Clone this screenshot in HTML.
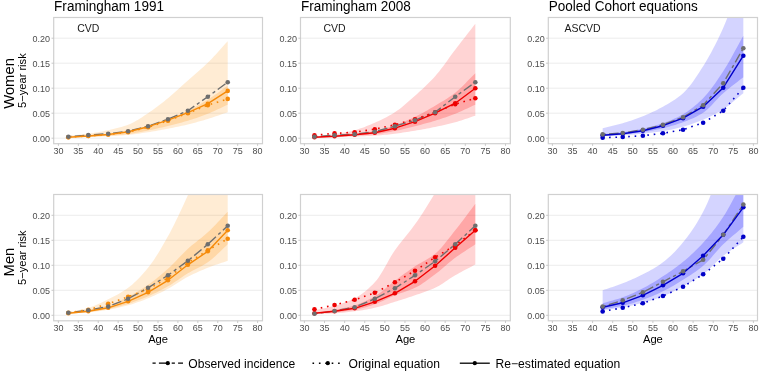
<!DOCTYPE html><html><head><meta charset="utf-8"><style>html,body{margin:0;padding:0;background:#fff;width:759px;height:371px;overflow:hidden}svg{display:block;filter:blur(0.35px)}text{font-family:"Liberation Sans", sans-serif}</style></head><body>
<svg width="759" height="371" viewBox="0 0 759 371">
<rect width="759" height="371" fill="#fff"/>
<defs><clipPath id="c00"><rect x="53.7" y="17.5" width="208.8" height="126.2"/></clipPath><clipPath id="c01"><rect x="300.5" y="17.5" width="209.8" height="126.2"/></clipPath><clipPath id="c02"><rect x="548.3" y="17.5" width="209.2" height="126.2"/></clipPath><clipPath id="c10"><rect x="53.7" y="194.5" width="208.8" height="126.3"/></clipPath><clipPath id="c11"><rect x="300.5" y="194.5" width="209.8" height="126.3"/></clipPath><clipPath id="c12"><rect x="548.3" y="194.5" width="209.2" height="126.3"/></clipPath></defs>
<line x1="53.7" x2="262.5" y1="138.2" y2="138.2" stroke="#EBEBEB" stroke-width="0.9"/>
<line x1="53.7" x2="262.5" y1="113.2" y2="113.2" stroke="#EBEBEB" stroke-width="0.9"/>
<line x1="53.7" x2="262.5" y1="88.2" y2="88.2" stroke="#EBEBEB" stroke-width="0.9"/>
<line x1="53.7" x2="262.5" y1="63.2" y2="63.2" stroke="#EBEBEB" stroke-width="0.9"/>
<line x1="53.7" x2="262.5" y1="38.2" y2="38.2" stroke="#EBEBEB" stroke-width="0.9"/>
<g clip-path="url(#c00)">
<polygon points="68.36,135.7 70.35,135.5 72.34,135.32 74.34,135.13 76.33,134.95 78.32,134.77 80.31,134.58 82.3,134.38 84.3,134.17 86.29,133.94 88.28,133.7 90.27,133.43 92.26,133.15 94.26,132.84 96.25,132.51 98.24,132.17 100.23,131.8 102.22,131.42 104.22,131.03 106.21,130.62 108.2,130.2 110.19,129.77 112.18,129.32 114.18,128.85 116.17,128.36 118.16,127.85 120.15,127.3 122.14,126.71 124.14,126.09 126.13,125.42 128.12,124.7 130.11,123.89 132.1,122.97 134.1,121.94 136.09,120.83 138.08,119.65 140.07,118.41 142.06,117.13 144.06,115.82 146.05,114.51 148.04,113.2 150.03,111.87 152.02,110.49 154.02,109.07 156.01,107.61 158,106.11 159.99,104.57 161.98,103.01 163.98,101.43 165.97,99.82 167.96,98.2 169.95,96.54 171.94,94.83 173.94,93.08 175.93,91.29 177.92,89.48 179.91,87.66 181.9,85.83 183.9,84 185.89,82.19 187.88,80.4 189.87,78.64 191.86,76.91 193.86,75.19 195.85,73.48 197.84,71.76 199.83,70.02 201.82,68.26 203.82,66.46 205.81,64.61 207.8,62.7 209.79,60.72 211.78,58.67 213.78,56.56 215.77,54.4 217.76,52.21 219.75,50 221.74,47.78 223.74,45.57 225.73,43.37 227.72,41.2 227.72,112.2 225.73,112.88 223.74,113.57 221.74,114.27 219.75,114.97 217.76,115.66 215.77,116.35 213.78,117.03 211.78,117.69 209.79,118.33 207.8,118.95 205.81,119.55 203.82,120.14 201.82,120.73 199.83,121.3 197.84,121.86 195.85,122.41 193.86,122.94 191.86,123.46 189.87,123.96 187.88,124.45 185.89,124.92 183.9,125.38 181.9,125.83 179.91,126.27 177.92,126.69 175.93,127.11 173.94,127.52 171.94,127.92 169.95,128.31 167.96,128.7 165.97,129.08 163.98,129.46 161.98,129.83 159.99,130.19 158,130.55 156.01,130.9 154.02,131.24 152.02,131.57 150.03,131.89 148.04,132.2 146.05,132.51 144.06,132.81 142.06,133.12 140.07,133.42 138.08,133.71 136.09,133.98 134.1,134.24 132.1,134.49 130.11,134.71 128.12,134.9 126.13,135.07 124.14,135.24 122.14,135.39 120.15,135.53 118.16,135.67 116.17,135.8 114.18,135.92 112.18,136.03 110.19,136.14 108.2,136.25 106.21,136.35 104.22,136.45 102.22,136.54 100.23,136.64 98.24,136.72 96.25,136.8 94.26,136.88 92.26,136.96 90.27,137.03 88.28,137.1 86.29,137.16 84.3,137.23 82.3,137.28 80.31,137.34 78.32,137.39 76.33,137.44 74.34,137.49 72.34,137.54 70.35,137.6 68.36,137.65" fill="#FF8C00" fill-opacity="0.17"/>
<polygon points="68.36,137.1 70.35,136.99 72.34,136.89 74.34,136.78 76.33,136.68 78.32,136.58 80.31,136.47 82.3,136.36 84.3,136.25 86.29,136.13 88.28,136 90.27,135.87 92.26,135.73 94.26,135.58 96.25,135.43 98.24,135.27 100.23,135.1 102.22,134.93 104.22,134.74 106.21,134.55 108.2,134.35 110.19,134.14 112.18,133.92 114.18,133.68 116.17,133.44 118.16,133.18 120.15,132.9 122.14,132.6 124.14,132.29 126.13,131.96 128.12,131.6 130.11,131.2 132.1,130.76 134.1,130.26 136.09,129.73 138.08,129.17 140.07,128.58 142.06,127.97 144.06,127.35 146.05,126.72 148.04,126.1 150.03,125.47 152.02,124.81 154.02,124.12 156.01,123.42 158,122.71 159.99,121.97 161.98,121.23 163.98,120.48 165.97,119.71 167.96,118.95 169.95,118.18 171.94,117.41 173.94,116.64 175.93,115.85 177.92,115.05 179.91,114.23 181.9,113.39 183.9,112.52 185.89,111.63 187.88,110.7 189.87,109.74 191.86,108.74 193.86,107.71 195.85,106.65 197.84,105.56 199.83,104.44 201.82,103.29 203.82,102.12 205.81,100.92 207.8,99.7 209.79,98.44 211.78,97.12 213.78,95.75 215.77,94.34 217.76,92.91 219.75,91.46 221.74,90.01 223.74,88.55 225.73,87.12 227.72,85.7 227.72,104.7 225.73,105.61 223.74,106.54 221.74,107.47 219.75,108.41 217.76,109.34 215.77,110.26 213.78,111.17 211.78,112.04 209.79,112.89 207.8,113.7 205.81,114.48 203.82,115.24 201.82,115.99 199.83,116.72 197.84,117.43 195.85,118.13 193.86,118.8 191.86,119.46 189.87,120.09 187.88,120.7 185.89,121.29 183.9,121.86 181.9,122.41 179.91,122.94 177.92,123.47 175.93,123.98 173.94,124.48 171.94,124.97 169.95,125.46 167.96,125.95 165.97,126.44 163.98,126.92 161.98,127.4 159.99,127.87 158,128.34 156.01,128.8 154.02,129.24 152.02,129.68 150.03,130.1 148.04,130.5 146.05,130.9 144.06,131.3 142.06,131.69 140.07,132.08 138.08,132.45 136.09,132.81 134.1,133.15 132.1,133.46 130.11,133.75 128.12,134 126.13,134.23 124.14,134.44 122.14,134.64 120.15,134.83 118.16,135 116.17,135.17 114.18,135.33 112.18,135.47 110.19,135.62 108.2,135.75 106.21,135.88 104.22,136 102.22,136.12 100.23,136.23 98.24,136.33 96.25,136.44 94.26,136.53 92.26,136.63 90.27,136.71 88.28,136.8 86.29,136.88 84.3,136.96 82.3,137.03 80.31,137.1 78.32,137.17 76.33,137.23 74.34,137.3 72.34,137.36 70.35,137.43 68.36,137.5" fill="#FF8C00" fill-opacity="0.21"/>
<polyline points="68.36,136.7 88.28,135 108.2,133.7 128.12,131.2 148.04,126.2 167.96,119.2 187.88,110.7 207.8,96.7 227.72,82.2" fill="none" stroke="#6E6E6E" stroke-width="1.4" stroke-dasharray="3.2 3.2 9.6 3.2" stroke-linejoin="round"/>
<polyline points="68.36,137.2 88.28,135.95 108.2,134.45 128.12,132.2 148.04,127.2 167.96,120.7 187.88,113.2 207.8,105.2 227.72,98.9" fill="none" stroke="#F58A0A" stroke-width="1.6" stroke-dasharray="1.6 4.8" stroke-linejoin="round"/>
<polyline points="68.36,137.2 88.28,135.95 108.2,134.45 128.12,131.7 148.04,126.7 167.96,120.2 187.88,112.7 207.8,103.7 227.72,90.9" fill="none" stroke="#F58A0A" stroke-width="1.4" stroke-linejoin="round"/>
<circle cx="68.36" cy="137.2" r="2.3" fill="#F58A0A"/>
<circle cx="88.28" cy="135.95" r="2.3" fill="#F58A0A"/>
<circle cx="108.2" cy="134.45" r="2.3" fill="#F58A0A"/>
<circle cx="128.12" cy="132.2" r="2.3" fill="#F58A0A"/>
<circle cx="148.04" cy="127.2" r="2.3" fill="#F58A0A"/>
<circle cx="167.96" cy="120.7" r="2.3" fill="#F58A0A"/>
<circle cx="187.88" cy="113.2" r="2.3" fill="#F58A0A"/>
<circle cx="207.8" cy="105.2" r="2.3" fill="#F58A0A"/>
<circle cx="227.72" cy="98.9" r="2.3" fill="#F58A0A"/>
<circle cx="68.36" cy="137.2" r="2.3" fill="#F58A0A"/>
<circle cx="88.28" cy="135.95" r="2.3" fill="#F58A0A"/>
<circle cx="108.2" cy="134.45" r="2.3" fill="#F58A0A"/>
<circle cx="128.12" cy="131.7" r="2.3" fill="#F58A0A"/>
<circle cx="148.04" cy="126.7" r="2.3" fill="#F58A0A"/>
<circle cx="167.96" cy="120.2" r="2.3" fill="#F58A0A"/>
<circle cx="187.88" cy="112.7" r="2.3" fill="#F58A0A"/>
<circle cx="207.8" cy="103.7" r="2.3" fill="#F58A0A"/>
<circle cx="227.72" cy="90.9" r="2.3" fill="#F58A0A"/>
<circle cx="68.36" cy="136.7" r="2.3" fill="#6E6E6E"/>
<circle cx="88.28" cy="135" r="2.3" fill="#6E6E6E"/>
<circle cx="108.2" cy="133.7" r="2.3" fill="#6E6E6E"/>
<circle cx="128.12" cy="131.2" r="2.3" fill="#6E6E6E"/>
<circle cx="148.04" cy="126.2" r="2.3" fill="#6E6E6E"/>
<circle cx="167.96" cy="119.2" r="2.3" fill="#6E6E6E"/>
<circle cx="187.88" cy="110.7" r="2.3" fill="#6E6E6E"/>
<circle cx="207.8" cy="96.7" r="2.3" fill="#6E6E6E"/>
<circle cx="227.72" cy="82.2" r="2.3" fill="#6E6E6E"/>
</g>
<rect x="53.7" y="17.5" width="208.8" height="126.2" fill="none" stroke="#D0D0D0" stroke-width="1.2"/>
<line x1="51.5" x2="53.7" y1="138.2" y2="138.2" stroke="#C4C4C4" stroke-width="0.9"/>
<text transform="translate(50.1,141.5) scale(1,1.1)" font-size="9" fill="#4D4D4D" text-anchor="end">0.00</text>
<line x1="51.5" x2="53.7" y1="113.2" y2="113.2" stroke="#C4C4C4" stroke-width="0.9"/>
<text transform="translate(50.1,116.5) scale(1,1.1)" font-size="9" fill="#4D4D4D" text-anchor="end">0.05</text>
<line x1="51.5" x2="53.7" y1="88.2" y2="88.2" stroke="#C4C4C4" stroke-width="0.9"/>
<text transform="translate(50.1,91.5) scale(1,1.1)" font-size="9" fill="#4D4D4D" text-anchor="end">0.10</text>
<line x1="51.5" x2="53.7" y1="63.2" y2="63.2" stroke="#C4C4C4" stroke-width="0.9"/>
<text transform="translate(50.1,66.5) scale(1,1.1)" font-size="9" fill="#4D4D4D" text-anchor="end">0.15</text>
<line x1="51.5" x2="53.7" y1="38.2" y2="38.2" stroke="#C4C4C4" stroke-width="0.9"/>
<text transform="translate(50.1,41.5) scale(1,1.1)" font-size="9" fill="#4D4D4D" text-anchor="end">0.20</text>
<line x1="58.4" x2="58.4" y1="143.7" y2="145.9" stroke="#C4C4C4" stroke-width="0.9"/>
<text transform="translate(58.4,154.1) scale(1,1.1)" font-size="9" fill="#4D4D4D" text-anchor="middle">30</text>
<line x1="78.32" x2="78.32" y1="143.7" y2="145.9" stroke="#C4C4C4" stroke-width="0.9"/>
<text transform="translate(78.32,154.1) scale(1,1.1)" font-size="9" fill="#4D4D4D" text-anchor="middle">35</text>
<line x1="98.24" x2="98.24" y1="143.7" y2="145.9" stroke="#C4C4C4" stroke-width="0.9"/>
<text transform="translate(98.24,154.1) scale(1,1.1)" font-size="9" fill="#4D4D4D" text-anchor="middle">40</text>
<line x1="118.16" x2="118.16" y1="143.7" y2="145.9" stroke="#C4C4C4" stroke-width="0.9"/>
<text transform="translate(118.16,154.1) scale(1,1.1)" font-size="9" fill="#4D4D4D" text-anchor="middle">45</text>
<line x1="138.08" x2="138.08" y1="143.7" y2="145.9" stroke="#C4C4C4" stroke-width="0.9"/>
<text transform="translate(138.08,154.1) scale(1,1.1)" font-size="9" fill="#4D4D4D" text-anchor="middle">50</text>
<line x1="158" x2="158" y1="143.7" y2="145.9" stroke="#C4C4C4" stroke-width="0.9"/>
<text transform="translate(158,154.1) scale(1,1.1)" font-size="9" fill="#4D4D4D" text-anchor="middle">55</text>
<line x1="177.92" x2="177.92" y1="143.7" y2="145.9" stroke="#C4C4C4" stroke-width="0.9"/>
<text transform="translate(177.92,154.1) scale(1,1.1)" font-size="9" fill="#4D4D4D" text-anchor="middle">60</text>
<line x1="197.84" x2="197.84" y1="143.7" y2="145.9" stroke="#C4C4C4" stroke-width="0.9"/>
<text transform="translate(197.84,154.1) scale(1,1.1)" font-size="9" fill="#4D4D4D" text-anchor="middle">65</text>
<line x1="217.76" x2="217.76" y1="143.7" y2="145.9" stroke="#C4C4C4" stroke-width="0.9"/>
<text transform="translate(217.76,154.1) scale(1,1.1)" font-size="9" fill="#4D4D4D" text-anchor="middle">70</text>
<line x1="237.68" x2="237.68" y1="143.7" y2="145.9" stroke="#C4C4C4" stroke-width="0.9"/>
<text transform="translate(237.68,154.1) scale(1,1.1)" font-size="9" fill="#4D4D4D" text-anchor="middle">75</text>
<line x1="257.6" x2="257.6" y1="143.7" y2="145.9" stroke="#C4C4C4" stroke-width="0.9"/>
<text transform="translate(257.6,154.1) scale(1,1.1)" font-size="9" fill="#4D4D4D" text-anchor="middle">80</text>
<text x="88.28" y="31.7" font-size="10.5" fill="#1A1A1A" text-anchor="middle">CVD</text>
<text transform="translate(54.1,11.1) scale(1,1.08)" font-size="13.55" fill="#000">Framingham 1991</text>
<line x1="300.5" x2="510.3" y1="138.2" y2="138.2" stroke="#EBEBEB" stroke-width="0.9"/>
<line x1="300.5" x2="510.3" y1="113.2" y2="113.2" stroke="#EBEBEB" stroke-width="0.9"/>
<line x1="300.5" x2="510.3" y1="88.2" y2="88.2" stroke="#EBEBEB" stroke-width="0.9"/>
<line x1="300.5" x2="510.3" y1="63.2" y2="63.2" stroke="#EBEBEB" stroke-width="0.9"/>
<line x1="300.5" x2="510.3" y1="38.2" y2="38.2" stroke="#EBEBEB" stroke-width="0.9"/>
<g clip-path="url(#c01)">
<polygon points="314.45,136.7 316.47,136.46 318.48,136.22 320.49,135.99 322.5,135.76 324.51,135.52 326.52,135.28 328.53,135.03 330.54,134.77 332.55,134.5 334.56,134.2 336.58,133.89 338.59,133.56 340.6,133.21 342.61,132.85 344.62,132.47 346.63,132.06 348.64,131.64 350.65,131.19 352.66,130.71 354.67,130.2 356.69,129.65 358.7,129.03 360.71,128.36 362.72,127.65 364.73,126.89 366.74,126.1 368.75,125.28 370.76,124.43 372.77,123.57 374.78,122.7 376.8,121.81 378.81,120.9 380.82,119.95 382.83,118.98 384.84,117.96 386.85,116.9 388.86,115.8 390.87,114.65 392.88,113.45 394.89,112.2 396.91,110.86 398.92,109.41 400.93,107.88 402.94,106.26 404.95,104.58 406.96,102.85 408.97,101.08 410.98,99.29 412.99,97.49 415,95.7 417.02,93.91 419.03,92.1 421.04,90.28 423.05,88.42 425.06,86.52 427.07,84.58 429.08,82.59 431.09,80.53 433.1,78.4 435.12,76.2 437.13,73.87 439.14,71.41 441.15,68.83 443.16,66.16 445.17,63.42 447.18,60.65 449.19,57.87 451.2,55.1 453.21,52.37 455.23,49.7 457.24,47.08 459.25,44.47 461.26,41.86 463.27,39.26 465.28,36.67 467.29,34.08 469.3,31.48 471.31,28.89 473.32,26.3 475.33,23.7 475.33,115.7 473.32,116.36 471.31,117.03 469.3,117.71 467.29,118.4 465.28,119.08 463.27,119.75 461.26,120.4 459.25,121.03 457.24,121.63 455.23,122.2 453.21,122.74 451.2,123.26 449.19,123.77 447.18,124.26 445.17,124.74 443.16,125.2 441.15,125.65 439.14,126.1 437.13,126.53 435.12,126.95 433.1,127.36 431.09,127.77 429.08,128.17 427.07,128.55 425.06,128.93 423.05,129.3 421.04,129.66 419.03,130.02 417.02,130.36 415,130.7 412.99,131.03 410.98,131.36 408.97,131.69 406.96,132.01 404.95,132.32 402.94,132.62 400.93,132.91 398.92,133.19 396.91,133.45 394.89,133.7 392.88,133.94 390.87,134.18 388.86,134.41 386.85,134.63 384.84,134.84 382.83,135.05 380.82,135.24 378.81,135.41 376.8,135.57 374.78,135.7 372.77,135.82 370.76,135.93 368.75,136.03 366.74,136.12 364.73,136.21 362.72,136.29 360.71,136.37 358.7,136.45 356.69,136.52 354.67,136.6 352.66,136.68 350.65,136.76 348.64,136.83 346.63,136.91 344.62,136.98 342.61,137.05 340.6,137.12 338.59,137.18 336.58,137.24 334.56,137.3 332.55,137.35 330.54,137.4 328.53,137.45 326.52,137.49 324.51,137.54 322.5,137.58 320.49,137.62 318.48,137.66 316.47,137.71 314.45,137.75" fill="#FF0000" fill-opacity="0.17"/>
<polygon points="314.45,136.9 316.47,136.77 318.48,136.65 320.49,136.53 322.5,136.4 324.51,136.28 326.52,136.16 328.53,136.03 330.54,135.89 332.55,135.75 334.56,135.6 336.58,135.44 338.59,135.27 340.6,135.09 342.61,134.9 344.62,134.71 346.63,134.51 348.64,134.3 350.65,134.09 352.66,133.87 354.67,133.65 356.69,133.43 358.7,133.21 360.71,132.99 362.72,132.76 364.73,132.52 366.74,132.27 368.75,132 370.76,131.71 372.77,131.39 374.78,131.05 376.8,130.66 378.81,130.2 380.82,129.69 382.83,129.14 384.84,128.54 386.85,127.91 388.86,127.25 390.87,126.58 392.88,125.89 394.89,125.2 396.91,124.49 398.92,123.74 400.93,122.96 402.94,122.15 404.95,121.31 406.96,120.44 408.97,119.55 410.98,118.63 412.99,117.7 415,116.75 417.02,115.77 419.03,114.76 421.04,113.71 423.05,112.63 425.06,111.52 427.07,110.39 429.08,109.24 431.09,108.07 433.1,106.89 435.12,105.7 437.13,104.51 439.14,103.32 441.15,102.12 443.16,100.9 445.17,99.66 447.18,98.38 449.19,97.05 451.2,95.67 453.21,94.22 455.23,92.7 457.24,91.07 459.25,89.3 461.26,87.42 463.27,85.46 465.28,83.44 467.29,81.37 469.3,79.3 471.31,77.22 473.32,75.19 475.33,73.2 475.33,104.7 473.32,105.61 471.31,106.54 469.3,107.47 467.29,108.41 465.28,109.34 463.27,110.26 461.26,111.17 459.25,112.04 457.24,112.89 455.23,113.7 453.21,114.48 451.2,115.24 449.19,115.98 447.18,116.71 445.17,117.41 443.16,118.1 441.15,118.78 439.14,119.44 437.13,120.08 435.12,120.7 433.1,121.31 431.09,121.9 429.08,122.47 427.07,123.03 425.06,123.58 423.05,124.12 421.04,124.65 419.03,125.17 417.02,125.69 415,126.2 412.99,126.71 410.98,127.22 408.97,127.73 406.96,128.24 404.95,128.73 402.94,129.21 400.93,129.68 398.92,130.13 396.91,130.55 394.89,130.95 392.88,131.34 390.87,131.72 388.86,132.09 386.85,132.45 384.84,132.8 382.83,133.13 380.82,133.44 378.81,133.72 376.8,133.98 374.78,134.2 372.77,134.4 370.76,134.58 368.75,134.75 366.74,134.9 364.73,135.05 362.72,135.19 360.71,135.32 358.7,135.45 356.69,135.57 354.67,135.7 352.66,135.83 350.65,135.95 348.64,136.07 346.63,136.19 344.62,136.3 342.61,136.41 340.6,136.52 338.59,136.62 336.58,136.71 334.56,136.8 332.55,136.88 330.54,136.96 328.53,137.03 326.52,137.1 324.51,137.17 322.5,137.23 320.49,137.3 318.48,137.36 316.47,137.43 314.45,137.5" fill="#FF0000" fill-opacity="0.21"/>
<polyline points="314.45,136.7 334.56,135.2 354.67,134.2 374.78,131.7 394.89,126.2 415,120.2 435.12,112.2 455.23,96.7 475.33,82.2" fill="none" stroke="#6E6E6E" stroke-width="1.4" stroke-dasharray="3.2 3.2 9.6 3.2" stroke-linejoin="round"/>
<polyline points="314.45,135.2 334.56,133.4 354.67,132.2 374.78,129.2 394.89,124.7 415,119.2 435.12,112.2 455.23,104.2 475.33,98.2" fill="none" stroke="#EE0000" stroke-width="1.6" stroke-dasharray="1.6 4.8" stroke-linejoin="round"/>
<polyline points="314.45,137.2 334.56,136.2 354.67,134.7 374.78,132.7 394.89,128.2 415,121.7 435.12,113.2 455.23,103.2 475.33,88.2" fill="none" stroke="#EE0000" stroke-width="1.4" stroke-linejoin="round"/>
<circle cx="314.45" cy="135.2" r="2.3" fill="#EE0000"/>
<circle cx="334.56" cy="133.4" r="2.3" fill="#EE0000"/>
<circle cx="354.67" cy="132.2" r="2.3" fill="#EE0000"/>
<circle cx="374.78" cy="129.2" r="2.3" fill="#EE0000"/>
<circle cx="394.89" cy="124.7" r="2.3" fill="#EE0000"/>
<circle cx="415" cy="119.2" r="2.3" fill="#EE0000"/>
<circle cx="435.12" cy="112.2" r="2.3" fill="#EE0000"/>
<circle cx="455.23" cy="104.2" r="2.3" fill="#EE0000"/>
<circle cx="475.33" cy="98.2" r="2.3" fill="#EE0000"/>
<circle cx="314.45" cy="137.2" r="2.3" fill="#EE0000"/>
<circle cx="334.56" cy="136.2" r="2.3" fill="#EE0000"/>
<circle cx="354.67" cy="134.7" r="2.3" fill="#EE0000"/>
<circle cx="374.78" cy="132.7" r="2.3" fill="#EE0000"/>
<circle cx="394.89" cy="128.2" r="2.3" fill="#EE0000"/>
<circle cx="415" cy="121.7" r="2.3" fill="#EE0000"/>
<circle cx="435.12" cy="113.2" r="2.3" fill="#EE0000"/>
<circle cx="455.23" cy="103.2" r="2.3" fill="#EE0000"/>
<circle cx="475.33" cy="88.2" r="2.3" fill="#EE0000"/>
<circle cx="314.45" cy="136.7" r="2.3" fill="#6E6E6E"/>
<circle cx="334.56" cy="135.2" r="2.3" fill="#6E6E6E"/>
<circle cx="354.67" cy="134.2" r="2.3" fill="#6E6E6E"/>
<circle cx="374.78" cy="131.7" r="2.3" fill="#6E6E6E"/>
<circle cx="394.89" cy="126.2" r="2.3" fill="#6E6E6E"/>
<circle cx="415" cy="120.2" r="2.3" fill="#6E6E6E"/>
<circle cx="435.12" cy="112.2" r="2.3" fill="#6E6E6E"/>
<circle cx="455.23" cy="96.7" r="2.3" fill="#6E6E6E"/>
<circle cx="475.33" cy="82.2" r="2.3" fill="#6E6E6E"/>
</g>
<rect x="300.5" y="17.5" width="209.8" height="126.2" fill="none" stroke="#D0D0D0" stroke-width="1.2"/>
<line x1="298.3" x2="300.5" y1="138.2" y2="138.2" stroke="#C4C4C4" stroke-width="0.9"/>
<text transform="translate(296.9,141.5) scale(1,1.1)" font-size="9" fill="#4D4D4D" text-anchor="end">0.00</text>
<line x1="298.3" x2="300.5" y1="113.2" y2="113.2" stroke="#C4C4C4" stroke-width="0.9"/>
<text transform="translate(296.9,116.5) scale(1,1.1)" font-size="9" fill="#4D4D4D" text-anchor="end">0.05</text>
<line x1="298.3" x2="300.5" y1="88.2" y2="88.2" stroke="#C4C4C4" stroke-width="0.9"/>
<text transform="translate(296.9,91.5) scale(1,1.1)" font-size="9" fill="#4D4D4D" text-anchor="end">0.10</text>
<line x1="298.3" x2="300.5" y1="63.2" y2="63.2" stroke="#C4C4C4" stroke-width="0.9"/>
<text transform="translate(296.9,66.5) scale(1,1.1)" font-size="9" fill="#4D4D4D" text-anchor="end">0.15</text>
<line x1="298.3" x2="300.5" y1="38.2" y2="38.2" stroke="#C4C4C4" stroke-width="0.9"/>
<text transform="translate(296.9,41.5) scale(1,1.1)" font-size="9" fill="#4D4D4D" text-anchor="end">0.20</text>
<line x1="304.4" x2="304.4" y1="143.7" y2="145.9" stroke="#C4C4C4" stroke-width="0.9"/>
<text transform="translate(304.4,154.1) scale(1,1.1)" font-size="9" fill="#4D4D4D" text-anchor="middle">30</text>
<line x1="324.51" x2="324.51" y1="143.7" y2="145.9" stroke="#C4C4C4" stroke-width="0.9"/>
<text transform="translate(324.51,154.1) scale(1,1.1)" font-size="9" fill="#4D4D4D" text-anchor="middle">35</text>
<line x1="344.62" x2="344.62" y1="143.7" y2="145.9" stroke="#C4C4C4" stroke-width="0.9"/>
<text transform="translate(344.62,154.1) scale(1,1.1)" font-size="9" fill="#4D4D4D" text-anchor="middle">40</text>
<line x1="364.73" x2="364.73" y1="143.7" y2="145.9" stroke="#C4C4C4" stroke-width="0.9"/>
<text transform="translate(364.73,154.1) scale(1,1.1)" font-size="9" fill="#4D4D4D" text-anchor="middle">45</text>
<line x1="384.84" x2="384.84" y1="143.7" y2="145.9" stroke="#C4C4C4" stroke-width="0.9"/>
<text transform="translate(384.84,154.1) scale(1,1.1)" font-size="9" fill="#4D4D4D" text-anchor="middle">50</text>
<line x1="404.95" x2="404.95" y1="143.7" y2="145.9" stroke="#C4C4C4" stroke-width="0.9"/>
<text transform="translate(404.95,154.1) scale(1,1.1)" font-size="9" fill="#4D4D4D" text-anchor="middle">55</text>
<line x1="425.06" x2="425.06" y1="143.7" y2="145.9" stroke="#C4C4C4" stroke-width="0.9"/>
<text transform="translate(425.06,154.1) scale(1,1.1)" font-size="9" fill="#4D4D4D" text-anchor="middle">60</text>
<line x1="445.17" x2="445.17" y1="143.7" y2="145.9" stroke="#C4C4C4" stroke-width="0.9"/>
<text transform="translate(445.17,154.1) scale(1,1.1)" font-size="9" fill="#4D4D4D" text-anchor="middle">65</text>
<line x1="465.28" x2="465.28" y1="143.7" y2="145.9" stroke="#C4C4C4" stroke-width="0.9"/>
<text transform="translate(465.28,154.1) scale(1,1.1)" font-size="9" fill="#4D4D4D" text-anchor="middle">70</text>
<line x1="485.39" x2="485.39" y1="143.7" y2="145.9" stroke="#C4C4C4" stroke-width="0.9"/>
<text transform="translate(485.39,154.1) scale(1,1.1)" font-size="9" fill="#4D4D4D" text-anchor="middle">75</text>
<line x1="505.5" x2="505.5" y1="143.7" y2="145.9" stroke="#C4C4C4" stroke-width="0.9"/>
<text transform="translate(505.5,154.1) scale(1,1.1)" font-size="9" fill="#4D4D4D" text-anchor="middle">80</text>
<text x="334.56" y="31.7" font-size="10.5" fill="#1A1A1A" text-anchor="middle">CVD</text>
<text transform="translate(300.9,11.1) scale(1,1.08)" font-size="13.55" fill="#000">Framingham 2008</text>
<line x1="548.3" x2="757.5" y1="138.2" y2="138.2" stroke="#EBEBEB" stroke-width="0.9"/>
<line x1="548.3" x2="757.5" y1="113.2" y2="113.2" stroke="#EBEBEB" stroke-width="0.9"/>
<line x1="548.3" x2="757.5" y1="88.2" y2="88.2" stroke="#EBEBEB" stroke-width="0.9"/>
<line x1="548.3" x2="757.5" y1="63.2" y2="63.2" stroke="#EBEBEB" stroke-width="0.9"/>
<line x1="548.3" x2="757.5" y1="38.2" y2="38.2" stroke="#EBEBEB" stroke-width="0.9"/>
<g clip-path="url(#c02)">
<polygon points="602.65,128.2 604.66,127.71 606.67,127.23 608.68,126.75 610.69,126.28 612.7,125.8 614.71,125.32 616.72,124.82 618.73,124.31 620.74,123.77 622.75,123.2 624.76,122.6 626.77,121.98 628.78,121.34 630.79,120.67 632.8,119.98 634.81,119.26 636.82,118.53 638.83,117.77 640.84,117 642.85,116.2 644.86,115.38 646.87,114.54 648.88,113.67 650.89,112.77 652.9,111.84 654.91,110.88 656.92,109.88 658.93,108.86 660.94,107.8 662.95,106.7 664.96,105.58 666.97,104.44 668.98,103.28 670.99,102.07 673,100.81 675.01,99.47 677.02,98.06 679.03,96.55 681.04,94.94 683.05,93.2 685.06,91.27 687.07,89.1 689.08,86.72 691.09,84.15 693.1,81.42 695.11,78.55 697.12,75.56 699.13,72.49 701.14,69.36 703.15,66.2 705.16,62.96 707.17,59.58 709.18,56.06 711.19,52.41 713.2,48.62 715.21,44.7 717.22,40.65 719.23,36.46 721.24,32.15 723.25,27.7 725.26,23.01 727.27,18 729.28,12.73 731.29,7.25 733.3,1.62 735.31,-4.1 737.32,-9.86 739.33,-15.6 741.34,-21.27 743.35,-26.8 743.35,93.2 741.34,94.83 739.33,96.51 737.32,98.21 735.31,99.92 733.3,101.62 731.29,103.28 729.28,104.89 727.27,106.43 725.26,107.87 723.25,109.2 721.24,110.45 719.23,111.65 717.22,112.8 715.21,113.92 713.2,114.98 711.19,116.01 709.18,117 707.17,117.94 705.16,118.84 703.15,119.7 701.14,120.53 699.13,121.33 697.12,122.1 695.11,122.85 693.1,123.57 691.09,124.25 689.08,124.91 687.07,125.54 685.06,126.14 683.05,126.7 681.04,127.24 679.03,127.77 677.02,128.27 675.01,128.76 673,129.23 670.99,129.68 668.98,130.1 666.97,130.5 664.96,130.86 662.95,131.2 660.94,131.51 658.93,131.81 656.92,132.09 654.91,132.36 652.9,132.62 650.89,132.86 648.88,133.09 646.87,133.3 644.86,133.51 642.85,133.7 640.84,133.88 638.83,134.06 636.82,134.22 634.81,134.38 632.8,134.53 630.79,134.68 628.78,134.82 626.77,134.95 624.76,135.08 622.75,135.2 620.74,135.32 618.73,135.43 616.72,135.53 614.71,135.63 612.7,135.72 610.69,135.82 608.68,135.91 606.67,136.01 604.66,136.1 602.65,136.2" fill="#0000FF" fill-opacity="0.17"/>
<polygon points="602.65,134.2 604.66,134 606.67,133.82 608.68,133.63 610.69,133.45 612.7,133.27 614.71,133.08 616.72,132.88 618.73,132.67 620.74,132.44 622.75,132.2 624.76,131.93 626.77,131.65 628.78,131.34 630.79,131.01 632.8,130.67 634.81,130.3 636.82,129.92 638.83,129.53 640.84,129.12 642.85,128.7 644.86,128.26 646.87,127.8 648.88,127.31 650.89,126.8 652.9,126.27 654.91,125.71 656.92,125.12 658.93,124.51 660.94,123.87 662.95,123.2 664.96,122.5 666.97,121.76 668.98,120.98 670.99,120.15 673,119.29 675.01,118.37 677.02,117.41 679.03,116.39 681.04,115.32 683.05,114.2 685.06,113 687.07,111.7 689.08,110.32 691.09,108.84 693.1,107.27 695.11,105.62 697.12,103.88 699.13,102.07 701.14,100.17 703.15,98.2 705.16,96.09 707.17,93.8 709.18,91.35 711.19,88.75 713.2,86.02 715.21,83.19 717.22,80.27 719.23,77.29 721.24,74.26 723.25,71.2 725.26,68.04 727.27,64.72 729.28,61.26 731.29,57.7 733.3,54.05 735.31,50.36 737.32,46.65 739.33,42.95 741.34,39.29 743.35,35.7 743.35,77.2 741.34,78.79 739.33,80.35 737.32,81.9 735.31,83.45 733.3,85 731.29,86.57 729.28,88.17 727.27,89.8 725.26,91.47 723.25,93.2 721.24,95.05 719.23,97.07 717.22,99.19 715.21,101.37 713.2,103.55 711.19,105.68 709.18,107.72 707.17,109.6 705.16,111.28 703.15,112.7 701.14,113.93 699.13,115.09 697.12,116.17 695.11,117.18 693.1,118.13 691.09,119.02 689.08,119.87 687.07,120.68 685.06,121.45 683.05,122.2 681.04,122.92 679.03,123.61 677.02,124.27 675.01,124.91 673,125.52 670.99,126.1 668.98,126.66 666.97,127.2 664.96,127.71 662.95,128.2 660.94,128.67 658.93,129.13 656.92,129.58 654.91,130 652.9,130.42 650.89,130.81 648.88,131.19 646.87,131.54 644.86,131.88 642.85,132.2 640.84,132.5 638.83,132.79 636.82,133.07 634.81,133.34 632.8,133.6 630.79,133.85 628.78,134.08 626.77,134.3 624.76,134.51 622.75,134.7 620.74,134.88 618.73,135.05 616.72,135.21 614.71,135.35 612.7,135.5 610.69,135.64 608.68,135.77 606.67,135.91 604.66,136.05 602.65,136.2" fill="#0000FF" fill-opacity="0.21"/>
<polyline points="602.65,134.4 622.75,133 642.85,129.7 662.95,124.7 683.05,117.2 703.15,105.2 723.25,83.2 743.35,48.2" fill="none" stroke="#6E6E6E" stroke-width="1.4" stroke-dasharray="3.2 3.2 9.6 3.2" stroke-linejoin="round"/>
<polyline points="602.65,137.7 622.75,137 642.85,135.7 662.95,133.3 683.05,129.7 703.15,122.7 723.25,110.7 743.35,87.7" fill="none" stroke="#0000C8" stroke-width="1.6" stroke-dasharray="1.6 4.8" stroke-linejoin="round"/>
<polyline points="602.65,135.2 622.75,133.7 642.85,130.7 662.95,125.7 683.05,118.2 703.15,106.7 723.25,87.7 743.35,55.7" fill="none" stroke="#0000C8" stroke-width="1.4" stroke-linejoin="round"/>
<circle cx="602.65" cy="137.7" r="2.3" fill="#0000C8"/>
<circle cx="622.75" cy="137" r="2.3" fill="#0000C8"/>
<circle cx="642.85" cy="135.7" r="2.3" fill="#0000C8"/>
<circle cx="662.95" cy="133.3" r="2.3" fill="#0000C8"/>
<circle cx="683.05" cy="129.7" r="2.3" fill="#0000C8"/>
<circle cx="703.15" cy="122.7" r="2.3" fill="#0000C8"/>
<circle cx="723.25" cy="110.7" r="2.3" fill="#0000C8"/>
<circle cx="743.35" cy="87.7" r="2.3" fill="#0000C8"/>
<circle cx="602.65" cy="135.2" r="2.3" fill="#0000C8"/>
<circle cx="622.75" cy="133.7" r="2.3" fill="#0000C8"/>
<circle cx="642.85" cy="130.7" r="2.3" fill="#0000C8"/>
<circle cx="662.95" cy="125.7" r="2.3" fill="#0000C8"/>
<circle cx="683.05" cy="118.2" r="2.3" fill="#0000C8"/>
<circle cx="703.15" cy="106.7" r="2.3" fill="#0000C8"/>
<circle cx="723.25" cy="87.7" r="2.3" fill="#0000C8"/>
<circle cx="743.35" cy="55.7" r="2.3" fill="#0000C8"/>
<circle cx="602.65" cy="134.4" r="2.3" fill="#6E6E6E"/>
<circle cx="622.75" cy="133" r="2.3" fill="#6E6E6E"/>
<circle cx="642.85" cy="129.7" r="2.3" fill="#6E6E6E"/>
<circle cx="662.95" cy="124.7" r="2.3" fill="#6E6E6E"/>
<circle cx="683.05" cy="117.2" r="2.3" fill="#6E6E6E"/>
<circle cx="703.15" cy="105.2" r="2.3" fill="#6E6E6E"/>
<circle cx="723.25" cy="83.2" r="2.3" fill="#6E6E6E"/>
<circle cx="743.35" cy="48.2" r="2.3" fill="#6E6E6E"/>
</g>
<rect x="548.3" y="17.5" width="209.2" height="126.2" fill="none" stroke="#D0D0D0" stroke-width="1.2"/>
<line x1="546.1" x2="548.3" y1="138.2" y2="138.2" stroke="#C4C4C4" stroke-width="0.9"/>
<text transform="translate(544.7,141.5) scale(1,1.1)" font-size="9" fill="#4D4D4D" text-anchor="end">0.00</text>
<line x1="546.1" x2="548.3" y1="113.2" y2="113.2" stroke="#C4C4C4" stroke-width="0.9"/>
<text transform="translate(544.7,116.5) scale(1,1.1)" font-size="9" fill="#4D4D4D" text-anchor="end">0.05</text>
<line x1="546.1" x2="548.3" y1="88.2" y2="88.2" stroke="#C4C4C4" stroke-width="0.9"/>
<text transform="translate(544.7,91.5) scale(1,1.1)" font-size="9" fill="#4D4D4D" text-anchor="end">0.10</text>
<line x1="546.1" x2="548.3" y1="63.2" y2="63.2" stroke="#C4C4C4" stroke-width="0.9"/>
<text transform="translate(544.7,66.5) scale(1,1.1)" font-size="9" fill="#4D4D4D" text-anchor="end">0.15</text>
<line x1="546.1" x2="548.3" y1="38.2" y2="38.2" stroke="#C4C4C4" stroke-width="0.9"/>
<text transform="translate(544.7,41.5) scale(1,1.1)" font-size="9" fill="#4D4D4D" text-anchor="end">0.20</text>
<line x1="552.4" x2="552.4" y1="143.7" y2="145.9" stroke="#C4C4C4" stroke-width="0.9"/>
<text transform="translate(552.4,154.1) scale(1,1.1)" font-size="9" fill="#4D4D4D" text-anchor="middle">30</text>
<line x1="572.5" x2="572.5" y1="143.7" y2="145.9" stroke="#C4C4C4" stroke-width="0.9"/>
<text transform="translate(572.5,154.1) scale(1,1.1)" font-size="9" fill="#4D4D4D" text-anchor="middle">35</text>
<line x1="592.6" x2="592.6" y1="143.7" y2="145.9" stroke="#C4C4C4" stroke-width="0.9"/>
<text transform="translate(592.6,154.1) scale(1,1.1)" font-size="9" fill="#4D4D4D" text-anchor="middle">40</text>
<line x1="612.7" x2="612.7" y1="143.7" y2="145.9" stroke="#C4C4C4" stroke-width="0.9"/>
<text transform="translate(612.7,154.1) scale(1,1.1)" font-size="9" fill="#4D4D4D" text-anchor="middle">45</text>
<line x1="632.8" x2="632.8" y1="143.7" y2="145.9" stroke="#C4C4C4" stroke-width="0.9"/>
<text transform="translate(632.8,154.1) scale(1,1.1)" font-size="9" fill="#4D4D4D" text-anchor="middle">50</text>
<line x1="652.9" x2="652.9" y1="143.7" y2="145.9" stroke="#C4C4C4" stroke-width="0.9"/>
<text transform="translate(652.9,154.1) scale(1,1.1)" font-size="9" fill="#4D4D4D" text-anchor="middle">55</text>
<line x1="673" x2="673" y1="143.7" y2="145.9" stroke="#C4C4C4" stroke-width="0.9"/>
<text transform="translate(673,154.1) scale(1,1.1)" font-size="9" fill="#4D4D4D" text-anchor="middle">60</text>
<line x1="693.1" x2="693.1" y1="143.7" y2="145.9" stroke="#C4C4C4" stroke-width="0.9"/>
<text transform="translate(693.1,154.1) scale(1,1.1)" font-size="9" fill="#4D4D4D" text-anchor="middle">65</text>
<line x1="713.2" x2="713.2" y1="143.7" y2="145.9" stroke="#C4C4C4" stroke-width="0.9"/>
<text transform="translate(713.2,154.1) scale(1,1.1)" font-size="9" fill="#4D4D4D" text-anchor="middle">70</text>
<line x1="733.3" x2="733.3" y1="143.7" y2="145.9" stroke="#C4C4C4" stroke-width="0.9"/>
<text transform="translate(733.3,154.1) scale(1,1.1)" font-size="9" fill="#4D4D4D" text-anchor="middle">75</text>
<line x1="753.4" x2="753.4" y1="143.7" y2="145.9" stroke="#C4C4C4" stroke-width="0.9"/>
<text transform="translate(753.4,154.1) scale(1,1.1)" font-size="9" fill="#4D4D4D" text-anchor="middle">80</text>
<text x="582.55" y="31.7" font-size="10.5" fill="#1A1A1A" text-anchor="middle">ASCVD</text>
<text transform="translate(548.7,11.1) scale(1,1.08)" font-size="13.55" fill="#000">Pooled Cohort equations</text>
<text transform="translate(13.6,83.45) rotate(-90)" font-size="14.8" fill="#000" text-anchor="middle">Women</text>
<text transform="translate(26.4,80.6) rotate(-90)" font-size="11.1" fill="#000" text-anchor="middle">5−year risk</text>
<line x1="53.7" x2="262.5" y1="315.3" y2="315.3" stroke="#EBEBEB" stroke-width="0.9"/>
<line x1="53.7" x2="262.5" y1="290.3" y2="290.3" stroke="#EBEBEB" stroke-width="0.9"/>
<line x1="53.7" x2="262.5" y1="265.3" y2="265.3" stroke="#EBEBEB" stroke-width="0.9"/>
<line x1="53.7" x2="262.5" y1="240.3" y2="240.3" stroke="#EBEBEB" stroke-width="0.9"/>
<line x1="53.7" x2="262.5" y1="215.3" y2="215.3" stroke="#EBEBEB" stroke-width="0.9"/>
<g clip-path="url(#c10)">
<polygon points="68.36,312.3 70.35,311.86 72.34,311.44 74.34,311.04 76.33,310.63 78.32,310.22 80.31,309.8 82.3,309.35 84.3,308.88 86.29,308.36 88.28,307.8 90.27,307.17 92.26,306.48 94.26,305.71 96.25,304.9 98.24,304.04 100.23,303.13 102.22,302.2 104.22,301.25 106.21,300.28 108.2,299.3 110.19,298.32 112.18,297.32 114.18,296.3 116.17,295.25 118.16,294.15 120.15,293.01 122.14,291.81 124.14,290.55 126.13,289.22 128.12,287.8 130.11,286.28 132.1,284.63 134.1,282.87 136.09,281.01 138.08,279.03 140.07,276.96 142.06,274.8 144.06,272.54 146.05,270.21 148.04,267.8 150.03,265.26 152.02,262.53 154.02,259.64 156.01,256.61 158,253.45 159.99,250.17 161.98,246.8 163.98,243.35 165.97,239.85 167.96,236.3 169.95,232.65 171.94,228.85 173.94,224.91 175.93,220.86 177.92,216.71 179.91,212.49 181.9,208.22 183.9,203.92 185.89,199.6 187.88,195.3 189.87,190.97 191.86,186.57 193.86,182.11 195.85,177.6 197.84,173.06 199.83,168.5 201.82,163.93 203.82,159.37 205.81,154.82 207.8,150.3 209.79,145.8 211.78,141.3 213.78,136.8 215.77,132.3 217.76,127.8 219.75,123.3 221.74,118.8 223.74,114.3 225.73,109.8 227.72,105.3 227.72,260.8 225.73,261.49 223.74,262.17 221.74,262.84 219.75,263.52 217.76,264.19 215.77,264.87 213.78,265.57 211.78,266.29 209.79,267.03 207.8,267.8 205.81,268.6 203.82,269.41 201.82,270.25 199.83,271.11 197.84,272 195.85,272.91 193.86,273.84 191.86,274.8 189.87,275.79 187.88,276.8 185.89,277.87 183.9,279.03 181.9,280.24 179.91,281.49 177.92,282.76 175.93,284.04 173.94,285.3 171.94,286.52 169.95,287.7 167.96,288.8 165.97,289.85 163.98,290.89 161.98,291.9 159.99,292.9 158,293.87 156.01,294.81 154.02,295.73 152.02,296.62 150.03,297.48 148.04,298.3 146.05,299.1 144.06,299.88 142.06,300.65 140.07,301.4 138.08,302.12 136.09,302.82 134.1,303.49 132.1,304.13 130.11,304.73 128.12,305.3 126.13,305.84 124.14,306.37 122.14,306.87 120.15,307.36 118.16,307.83 116.17,308.28 114.18,308.7 112.18,309.1 110.19,309.46 108.2,309.8 106.21,310.11 104.22,310.41 102.22,310.69 100.23,310.96 98.24,311.22 96.25,311.46 94.26,311.69 92.26,311.9 90.27,312.11 88.28,312.3 86.29,312.48 84.3,312.65 82.3,312.81 80.31,312.95 78.32,313.1 76.33,313.24 74.34,313.37 72.34,313.51 70.35,313.65 68.36,313.8" fill="#FF8C00" fill-opacity="0.17"/>
<polygon points="68.36,312.55 70.35,312.28 72.34,312.02 74.34,311.77 76.33,311.51 78.32,311.26 80.31,311 82.3,310.72 84.3,310.43 86.29,310.13 88.28,309.8 90.27,309.45 92.26,309.08 94.26,308.7 96.25,308.29 98.24,307.86 100.23,307.4 102.22,306.92 104.22,306.41 106.21,305.87 108.2,305.3 110.19,304.67 112.18,303.98 114.18,303.23 116.17,302.42 118.16,301.56 120.15,300.66 122.14,299.73 124.14,298.77 126.13,297.79 128.12,296.8 130.11,295.78 132.1,294.72 134.1,293.61 136.09,292.46 138.08,291.27 140.07,290.04 142.06,288.78 144.06,287.48 146.05,286.16 148.04,284.8 150.03,283.4 152.02,281.95 154.02,280.45 156.01,278.9 158,277.31 159.99,275.68 161.98,274.01 163.98,272.3 165.97,270.56 167.96,268.8 169.95,266.96 171.94,265.02 173.94,263.01 175.93,260.94 177.92,258.84 179.91,256.74 181.9,254.66 183.9,252.63 185.89,250.66 187.88,248.8 189.87,247.04 191.86,245.35 193.86,243.73 195.85,242.14 197.84,240.58 199.83,239 201.82,237.41 203.82,235.78 205.81,234.08 207.8,232.3 209.79,230.43 211.78,228.48 213.78,226.48 215.77,224.42 217.76,222.33 219.75,220.21 221.74,218.09 223.74,215.97 225.73,213.87 227.72,211.8 227.72,244.3 225.73,246.14 223.74,248.04 221.74,249.97 219.75,251.92 217.76,253.84 215.77,255.73 213.78,257.54 211.78,259.26 209.79,260.85 207.8,262.3 205.81,263.61 203.82,264.81 201.82,265.93 199.83,266.99 197.84,268.02 195.85,269.02 193.86,270.03 191.86,271.07 189.87,272.15 187.88,273.3 185.89,274.53 183.9,275.82 181.9,277.15 179.91,278.51 177.92,279.88 175.93,281.24 173.94,282.58 171.94,283.88 169.95,285.13 167.96,286.3 165.97,287.42 163.98,288.51 161.98,289.58 159.99,290.62 158,291.64 156.01,292.63 154.02,293.59 152.02,294.52 150.03,295.43 148.04,296.3 146.05,297.15 144.06,297.98 142.06,298.79 140.07,299.58 138.08,300.35 136.09,301.09 134.1,301.81 132.1,302.5 130.11,303.17 128.12,303.8 126.13,304.41 124.14,305.02 122.14,305.6 120.15,306.17 118.16,306.72 116.17,307.25 114.18,307.75 112.18,308.22 110.19,308.65 108.2,309.05 106.21,309.42 104.22,309.77 102.22,310.11 100.23,310.43 98.24,310.73 96.25,311.02 94.26,311.29 92.26,311.54 90.27,311.78 88.28,312 86.29,312.2 84.3,312.39 82.3,312.56 80.31,312.73 78.32,312.88 76.33,313.03 74.34,313.18 72.34,313.33 70.35,313.49 68.36,313.65" fill="#FF8C00" fill-opacity="0.21"/>
<polyline points="68.36,312.8 88.28,310.3 108.2,306.6 128.12,298.8 148.04,287.8 167.96,275.3 187.88,260.8 207.8,244.3 227.72,225.8" fill="none" stroke="#6E6E6E" stroke-width="1.4" stroke-dasharray="3.2 3.2 9.6 3.2" stroke-linejoin="round"/>
<polyline points="68.36,312.8 88.28,309.8 108.2,303.8 128.12,296.8 148.04,289.3 167.96,277.8 187.88,262.8 207.8,250.3 227.72,238.8" fill="none" stroke="#F58A0A" stroke-width="1.6" stroke-dasharray="1.6 4.8" stroke-linejoin="round"/>
<polyline points="68.36,313.3 88.28,311.3 108.2,307.8 128.12,301.3 148.04,292.3 167.96,280.3 187.88,264.8 207.8,251.3 227.72,230.3" fill="none" stroke="#F58A0A" stroke-width="1.4" stroke-linejoin="round"/>
<circle cx="68.36" cy="312.8" r="2.3" fill="#F58A0A"/>
<circle cx="88.28" cy="309.8" r="2.3" fill="#F58A0A"/>
<circle cx="108.2" cy="303.8" r="2.3" fill="#F58A0A"/>
<circle cx="128.12" cy="296.8" r="2.3" fill="#F58A0A"/>
<circle cx="148.04" cy="289.3" r="2.3" fill="#F58A0A"/>
<circle cx="167.96" cy="277.8" r="2.3" fill="#F58A0A"/>
<circle cx="187.88" cy="262.8" r="2.3" fill="#F58A0A"/>
<circle cx="207.8" cy="250.3" r="2.3" fill="#F58A0A"/>
<circle cx="227.72" cy="238.8" r="2.3" fill="#F58A0A"/>
<circle cx="68.36" cy="313.3" r="2.3" fill="#F58A0A"/>
<circle cx="88.28" cy="311.3" r="2.3" fill="#F58A0A"/>
<circle cx="108.2" cy="307.8" r="2.3" fill="#F58A0A"/>
<circle cx="128.12" cy="301.3" r="2.3" fill="#F58A0A"/>
<circle cx="148.04" cy="292.3" r="2.3" fill="#F58A0A"/>
<circle cx="167.96" cy="280.3" r="2.3" fill="#F58A0A"/>
<circle cx="187.88" cy="264.8" r="2.3" fill="#F58A0A"/>
<circle cx="207.8" cy="251.3" r="2.3" fill="#F58A0A"/>
<circle cx="227.72" cy="230.3" r="2.3" fill="#F58A0A"/>
<circle cx="68.36" cy="312.8" r="2.3" fill="#6E6E6E"/>
<circle cx="88.28" cy="310.3" r="2.3" fill="#6E6E6E"/>
<circle cx="108.2" cy="306.6" r="2.3" fill="#6E6E6E"/>
<circle cx="128.12" cy="298.8" r="2.3" fill="#6E6E6E"/>
<circle cx="148.04" cy="287.8" r="2.3" fill="#6E6E6E"/>
<circle cx="167.96" cy="275.3" r="2.3" fill="#6E6E6E"/>
<circle cx="187.88" cy="260.8" r="2.3" fill="#6E6E6E"/>
<circle cx="207.8" cy="244.3" r="2.3" fill="#6E6E6E"/>
<circle cx="227.72" cy="225.8" r="2.3" fill="#6E6E6E"/>
</g>
<rect x="53.7" y="194.5" width="208.8" height="126.3" fill="none" stroke="#D0D0D0" stroke-width="1.2"/>
<line x1="51.5" x2="53.7" y1="315.3" y2="315.3" stroke="#C4C4C4" stroke-width="0.9"/>
<text transform="translate(50.1,318.6) scale(1,1.1)" font-size="9" fill="#4D4D4D" text-anchor="end">0.00</text>
<line x1="51.5" x2="53.7" y1="290.3" y2="290.3" stroke="#C4C4C4" stroke-width="0.9"/>
<text transform="translate(50.1,293.6) scale(1,1.1)" font-size="9" fill="#4D4D4D" text-anchor="end">0.05</text>
<line x1="51.5" x2="53.7" y1="265.3" y2="265.3" stroke="#C4C4C4" stroke-width="0.9"/>
<text transform="translate(50.1,268.6) scale(1,1.1)" font-size="9" fill="#4D4D4D" text-anchor="end">0.10</text>
<line x1="51.5" x2="53.7" y1="240.3" y2="240.3" stroke="#C4C4C4" stroke-width="0.9"/>
<text transform="translate(50.1,243.6) scale(1,1.1)" font-size="9" fill="#4D4D4D" text-anchor="end">0.15</text>
<line x1="51.5" x2="53.7" y1="215.3" y2="215.3" stroke="#C4C4C4" stroke-width="0.9"/>
<text transform="translate(50.1,218.6) scale(1,1.1)" font-size="9" fill="#4D4D4D" text-anchor="end">0.20</text>
<line x1="58.4" x2="58.4" y1="320.8" y2="323" stroke="#C4C4C4" stroke-width="0.9"/>
<text transform="translate(58.4,331.2) scale(1,1.1)" font-size="9" fill="#4D4D4D" text-anchor="middle">30</text>
<line x1="78.32" x2="78.32" y1="320.8" y2="323" stroke="#C4C4C4" stroke-width="0.9"/>
<text transform="translate(78.32,331.2) scale(1,1.1)" font-size="9" fill="#4D4D4D" text-anchor="middle">35</text>
<line x1="98.24" x2="98.24" y1="320.8" y2="323" stroke="#C4C4C4" stroke-width="0.9"/>
<text transform="translate(98.24,331.2) scale(1,1.1)" font-size="9" fill="#4D4D4D" text-anchor="middle">40</text>
<line x1="118.16" x2="118.16" y1="320.8" y2="323" stroke="#C4C4C4" stroke-width="0.9"/>
<text transform="translate(118.16,331.2) scale(1,1.1)" font-size="9" fill="#4D4D4D" text-anchor="middle">45</text>
<line x1="138.08" x2="138.08" y1="320.8" y2="323" stroke="#C4C4C4" stroke-width="0.9"/>
<text transform="translate(138.08,331.2) scale(1,1.1)" font-size="9" fill="#4D4D4D" text-anchor="middle">50</text>
<line x1="158" x2="158" y1="320.8" y2="323" stroke="#C4C4C4" stroke-width="0.9"/>
<text transform="translate(158,331.2) scale(1,1.1)" font-size="9" fill="#4D4D4D" text-anchor="middle">55</text>
<line x1="177.92" x2="177.92" y1="320.8" y2="323" stroke="#C4C4C4" stroke-width="0.9"/>
<text transform="translate(177.92,331.2) scale(1,1.1)" font-size="9" fill="#4D4D4D" text-anchor="middle">60</text>
<line x1="197.84" x2="197.84" y1="320.8" y2="323" stroke="#C4C4C4" stroke-width="0.9"/>
<text transform="translate(197.84,331.2) scale(1,1.1)" font-size="9" fill="#4D4D4D" text-anchor="middle">65</text>
<line x1="217.76" x2="217.76" y1="320.8" y2="323" stroke="#C4C4C4" stroke-width="0.9"/>
<text transform="translate(217.76,331.2) scale(1,1.1)" font-size="9" fill="#4D4D4D" text-anchor="middle">70</text>
<line x1="237.68" x2="237.68" y1="320.8" y2="323" stroke="#C4C4C4" stroke-width="0.9"/>
<text transform="translate(237.68,331.2) scale(1,1.1)" font-size="9" fill="#4D4D4D" text-anchor="middle">75</text>
<line x1="257.6" x2="257.6" y1="320.8" y2="323" stroke="#C4C4C4" stroke-width="0.9"/>
<text transform="translate(257.6,331.2) scale(1,1.1)" font-size="9" fill="#4D4D4D" text-anchor="middle">80</text>
<text x="158.1" y="343.3" font-size="11.2" fill="#000" text-anchor="middle">Age</text>
<line x1="300.5" x2="510.3" y1="315.3" y2="315.3" stroke="#EBEBEB" stroke-width="0.9"/>
<line x1="300.5" x2="510.3" y1="290.3" y2="290.3" stroke="#EBEBEB" stroke-width="0.9"/>
<line x1="300.5" x2="510.3" y1="265.3" y2="265.3" stroke="#EBEBEB" stroke-width="0.9"/>
<line x1="300.5" x2="510.3" y1="240.3" y2="240.3" stroke="#EBEBEB" stroke-width="0.9"/>
<line x1="300.5" x2="510.3" y1="215.3" y2="215.3" stroke="#EBEBEB" stroke-width="0.9"/>
<g clip-path="url(#c11)">
<polygon points="314.45,310.3 316.47,309.86 318.48,309.44 320.49,309.02 322.5,308.61 324.51,308.19 326.52,307.76 328.53,307.32 330.54,306.84 332.55,306.34 334.56,305.8 336.58,305.23 338.59,304.63 340.6,304 342.61,303.33 344.62,302.62 346.63,301.87 348.64,301.07 350.65,300.21 352.66,299.29 354.67,298.3 356.69,297.22 358.7,296.01 360.71,294.69 362.72,293.25 364.73,291.69 366.74,290.02 368.75,288.25 370.76,286.37 372.77,284.38 374.78,282.3 376.8,279.93 378.81,277.16 380.82,274.06 382.83,270.72 384.84,267.22 386.85,263.65 388.86,260.09 390.87,256.62 392.88,253.33 394.89,250.3 396.91,247.5 398.92,244.84 400.93,242.26 402.94,239.75 404.95,237.27 406.96,234.8 408.97,232.3 410.98,229.73 412.99,227.08 415,224.3 417.02,221.42 419.03,218.47 421.04,215.47 423.05,212.4 425.06,209.27 427.07,206.08 429.08,202.84 431.09,199.55 433.1,196.2 435.12,192.8 437.13,189.36 439.14,185.89 441.15,182.37 443.16,178.78 445.17,175.13 447.18,171.38 449.19,167.54 451.2,163.59 453.21,159.51 455.23,155.3 457.24,150.88 459.25,146.21 461.26,141.35 463.27,136.33 465.28,131.19 467.29,125.99 469.3,120.75 471.31,115.53 473.32,110.36 475.33,105.3 475.33,264.5 473.32,265.57 471.31,266.63 469.3,267.69 467.29,268.74 465.28,269.8 463.27,270.87 461.26,271.94 459.25,273.04 457.24,274.16 455.23,275.3 453.21,276.5 451.2,277.78 449.19,279.11 447.18,280.47 445.17,281.83 443.16,283.16 441.15,284.45 439.14,285.67 437.13,286.79 435.12,287.8 433.1,288.71 431.09,289.56 429.08,290.36 427.07,291.12 425.06,291.85 423.05,292.56 421.04,293.25 419.03,293.93 417.02,294.61 415,295.3 412.99,295.99 410.98,296.67 408.97,297.33 406.96,297.99 404.95,298.64 402.94,299.28 400.93,299.92 398.92,300.55 396.91,301.18 394.89,301.8 392.88,302.43 390.87,303.08 388.86,303.73 386.85,304.39 384.84,305.03 382.83,305.65 380.82,306.25 378.81,306.81 376.8,307.33 374.78,307.8 372.77,308.23 370.76,308.65 368.75,309.05 366.74,309.42 364.73,309.78 362.72,310.13 360.71,310.45 358.7,310.75 356.69,311.04 354.67,311.3 352.66,311.55 350.65,311.79 348.64,312.02 346.63,312.24 344.62,312.45 342.61,312.65 340.6,312.83 338.59,313 336.58,313.16 334.56,313.3 332.55,313.43 330.54,313.54 328.53,313.65 326.52,313.75 324.51,313.84 322.5,313.93 320.49,314.02 318.48,314.11 316.47,314.2 314.45,314.3" fill="#FF0000" fill-opacity="0.17"/>
<polygon points="314.45,312.8 316.47,312.51 318.48,312.22 320.49,311.94 322.5,311.66 324.51,311.38 326.52,311.09 328.53,310.79 330.54,310.48 332.55,310.15 334.56,309.8 336.58,309.44 338.59,309.06 340.6,308.68 342.61,308.27 344.62,307.85 346.63,307.4 348.64,306.93 350.65,306.42 352.66,305.88 354.67,305.3 356.69,304.66 358.7,303.96 360.71,303.19 362.72,302.36 364.73,301.47 366.74,300.53 368.75,299.54 370.76,298.5 372.77,297.42 374.78,296.3 376.8,295.08 378.81,293.71 380.82,292.22 382.83,290.64 384.84,289 386.85,287.32 388.86,285.63 390.87,283.97 392.88,282.35 394.89,280.8 396.91,279.3 398.92,277.8 400.93,276.31 402.94,274.83 404.95,273.36 406.96,271.9 408.97,270.46 410.98,269.05 412.99,267.66 415,266.3 417.02,265.01 419.03,263.8 421.04,262.65 423.05,261.53 425.06,260.41 427.07,259.26 429.08,258.05 431.09,256.76 433.1,255.35 435.12,253.8 437.13,252.04 439.14,250.06 441.15,247.89 443.16,245.57 445.17,243.12 447.18,240.59 449.19,238.01 451.2,235.41 453.21,232.83 455.23,230.3 457.24,227.78 459.25,225.2 461.26,222.58 463.27,219.93 465.28,217.25 467.29,214.55 469.3,211.85 471.31,209.15 473.32,206.46 475.33,203.8 475.33,244.3 473.32,245.64 471.31,246.96 469.3,248.26 467.29,249.57 465.28,250.88 463.27,252.21 461.26,253.55 459.25,254.93 457.24,256.34 455.23,257.8 453.21,259.33 451.2,260.94 449.19,262.61 447.18,264.32 445.17,266.05 443.16,267.78 441.15,269.49 439.14,271.16 437.13,272.77 435.12,274.3 433.1,275.79 431.09,277.3 429.08,278.79 427.07,280.26 425.06,281.7 423.05,283.09 421.04,284.4 419.03,285.64 417.02,286.77 415,287.8 412.99,288.72 410.98,289.55 408.97,290.32 406.96,291.04 404.95,291.73 402.94,292.41 400.93,293.08 398.92,293.78 396.91,294.51 394.89,295.3 392.88,296.15 390.87,297.06 388.86,298.02 386.85,298.99 384.84,299.97 382.83,300.93 380.82,301.87 378.81,302.75 376.8,303.57 374.78,304.3 372.77,304.98 370.76,305.64 368.75,306.28 366.74,306.89 364.73,307.47 362.72,308.02 360.71,308.54 358.7,309.01 356.69,309.43 354.67,309.8 352.66,310.13 350.65,310.44 348.64,310.73 346.63,311 344.62,311.25 342.61,311.48 340.6,311.7 338.59,311.91 336.58,312.11 334.56,312.3 332.55,312.48 330.54,312.65 328.53,312.81 326.52,312.95 324.51,313.1 322.5,313.24 320.49,313.37 318.48,313.51 316.47,313.65 314.45,313.8" fill="#FF0000" fill-opacity="0.21"/>
<polyline points="314.45,313.8 334.56,311 354.67,307.3 374.78,298.8 394.89,288.3 415,275.3 435.12,261.3 455.23,244.3 475.33,225.8" fill="none" stroke="#6E6E6E" stroke-width="1.4" stroke-dasharray="3.2 3.2 9.6 3.2" stroke-linejoin="round"/>
<polyline points="314.45,309.3 334.56,305 354.67,299.8 374.78,292.8 394.89,282.3 415,270.8 435.12,257.3 455.23,245.3 475.33,230.3" fill="none" stroke="#EE0000" stroke-width="1.6" stroke-dasharray="1.6 4.8" stroke-linejoin="round"/>
<polyline points="314.45,313.3 334.56,311.3 354.67,308.3 374.78,301.8 394.89,293.3 415,281.3 435.12,265.8 455.23,247.8 475.33,230.3" fill="none" stroke="#EE0000" stroke-width="1.4" stroke-linejoin="round"/>
<circle cx="314.45" cy="309.3" r="2.3" fill="#EE0000"/>
<circle cx="334.56" cy="305" r="2.3" fill="#EE0000"/>
<circle cx="354.67" cy="299.8" r="2.3" fill="#EE0000"/>
<circle cx="374.78" cy="292.8" r="2.3" fill="#EE0000"/>
<circle cx="394.89" cy="282.3" r="2.3" fill="#EE0000"/>
<circle cx="415" cy="270.8" r="2.3" fill="#EE0000"/>
<circle cx="435.12" cy="257.3" r="2.3" fill="#EE0000"/>
<circle cx="455.23" cy="245.3" r="2.3" fill="#EE0000"/>
<circle cx="475.33" cy="230.3" r="2.3" fill="#EE0000"/>
<circle cx="314.45" cy="313.3" r="2.3" fill="#EE0000"/>
<circle cx="334.56" cy="311.3" r="2.3" fill="#EE0000"/>
<circle cx="354.67" cy="308.3" r="2.3" fill="#EE0000"/>
<circle cx="374.78" cy="301.8" r="2.3" fill="#EE0000"/>
<circle cx="394.89" cy="293.3" r="2.3" fill="#EE0000"/>
<circle cx="415" cy="281.3" r="2.3" fill="#EE0000"/>
<circle cx="435.12" cy="265.8" r="2.3" fill="#EE0000"/>
<circle cx="455.23" cy="247.8" r="2.3" fill="#EE0000"/>
<circle cx="475.33" cy="230.3" r="2.3" fill="#EE0000"/>
<circle cx="314.45" cy="313.8" r="2.3" fill="#6E6E6E"/>
<circle cx="334.56" cy="311" r="2.3" fill="#6E6E6E"/>
<circle cx="354.67" cy="307.3" r="2.3" fill="#6E6E6E"/>
<circle cx="374.78" cy="298.8" r="2.3" fill="#6E6E6E"/>
<circle cx="394.89" cy="288.3" r="2.3" fill="#6E6E6E"/>
<circle cx="415" cy="275.3" r="2.3" fill="#6E6E6E"/>
<circle cx="435.12" cy="261.3" r="2.3" fill="#6E6E6E"/>
<circle cx="455.23" cy="244.3" r="2.3" fill="#6E6E6E"/>
<circle cx="475.33" cy="225.8" r="2.3" fill="#6E6E6E"/>
</g>
<rect x="300.5" y="194.5" width="209.8" height="126.3" fill="none" stroke="#D0D0D0" stroke-width="1.2"/>
<line x1="298.3" x2="300.5" y1="315.3" y2="315.3" stroke="#C4C4C4" stroke-width="0.9"/>
<text transform="translate(296.9,318.6) scale(1,1.1)" font-size="9" fill="#4D4D4D" text-anchor="end">0.00</text>
<line x1="298.3" x2="300.5" y1="290.3" y2="290.3" stroke="#C4C4C4" stroke-width="0.9"/>
<text transform="translate(296.9,293.6) scale(1,1.1)" font-size="9" fill="#4D4D4D" text-anchor="end">0.05</text>
<line x1="298.3" x2="300.5" y1="265.3" y2="265.3" stroke="#C4C4C4" stroke-width="0.9"/>
<text transform="translate(296.9,268.6) scale(1,1.1)" font-size="9" fill="#4D4D4D" text-anchor="end">0.10</text>
<line x1="298.3" x2="300.5" y1="240.3" y2="240.3" stroke="#C4C4C4" stroke-width="0.9"/>
<text transform="translate(296.9,243.6) scale(1,1.1)" font-size="9" fill="#4D4D4D" text-anchor="end">0.15</text>
<line x1="298.3" x2="300.5" y1="215.3" y2="215.3" stroke="#C4C4C4" stroke-width="0.9"/>
<text transform="translate(296.9,218.6) scale(1,1.1)" font-size="9" fill="#4D4D4D" text-anchor="end">0.20</text>
<line x1="304.4" x2="304.4" y1="320.8" y2="323" stroke="#C4C4C4" stroke-width="0.9"/>
<text transform="translate(304.4,331.2) scale(1,1.1)" font-size="9" fill="#4D4D4D" text-anchor="middle">30</text>
<line x1="324.51" x2="324.51" y1="320.8" y2="323" stroke="#C4C4C4" stroke-width="0.9"/>
<text transform="translate(324.51,331.2) scale(1,1.1)" font-size="9" fill="#4D4D4D" text-anchor="middle">35</text>
<line x1="344.62" x2="344.62" y1="320.8" y2="323" stroke="#C4C4C4" stroke-width="0.9"/>
<text transform="translate(344.62,331.2) scale(1,1.1)" font-size="9" fill="#4D4D4D" text-anchor="middle">40</text>
<line x1="364.73" x2="364.73" y1="320.8" y2="323" stroke="#C4C4C4" stroke-width="0.9"/>
<text transform="translate(364.73,331.2) scale(1,1.1)" font-size="9" fill="#4D4D4D" text-anchor="middle">45</text>
<line x1="384.84" x2="384.84" y1="320.8" y2="323" stroke="#C4C4C4" stroke-width="0.9"/>
<text transform="translate(384.84,331.2) scale(1,1.1)" font-size="9" fill="#4D4D4D" text-anchor="middle">50</text>
<line x1="404.95" x2="404.95" y1="320.8" y2="323" stroke="#C4C4C4" stroke-width="0.9"/>
<text transform="translate(404.95,331.2) scale(1,1.1)" font-size="9" fill="#4D4D4D" text-anchor="middle">55</text>
<line x1="425.06" x2="425.06" y1="320.8" y2="323" stroke="#C4C4C4" stroke-width="0.9"/>
<text transform="translate(425.06,331.2) scale(1,1.1)" font-size="9" fill="#4D4D4D" text-anchor="middle">60</text>
<line x1="445.17" x2="445.17" y1="320.8" y2="323" stroke="#C4C4C4" stroke-width="0.9"/>
<text transform="translate(445.17,331.2) scale(1,1.1)" font-size="9" fill="#4D4D4D" text-anchor="middle">65</text>
<line x1="465.28" x2="465.28" y1="320.8" y2="323" stroke="#C4C4C4" stroke-width="0.9"/>
<text transform="translate(465.28,331.2) scale(1,1.1)" font-size="9" fill="#4D4D4D" text-anchor="middle">70</text>
<line x1="485.39" x2="485.39" y1="320.8" y2="323" stroke="#C4C4C4" stroke-width="0.9"/>
<text transform="translate(485.39,331.2) scale(1,1.1)" font-size="9" fill="#4D4D4D" text-anchor="middle">75</text>
<line x1="505.5" x2="505.5" y1="320.8" y2="323" stroke="#C4C4C4" stroke-width="0.9"/>
<text transform="translate(505.5,331.2) scale(1,1.1)" font-size="9" fill="#4D4D4D" text-anchor="middle">80</text>
<text x="405.4" y="343.3" font-size="11.2" fill="#000" text-anchor="middle">Age</text>
<line x1="548.3" x2="757.5" y1="315.3" y2="315.3" stroke="#EBEBEB" stroke-width="0.9"/>
<line x1="548.3" x2="757.5" y1="290.3" y2="290.3" stroke="#EBEBEB" stroke-width="0.9"/>
<line x1="548.3" x2="757.5" y1="265.3" y2="265.3" stroke="#EBEBEB" stroke-width="0.9"/>
<line x1="548.3" x2="757.5" y1="240.3" y2="240.3" stroke="#EBEBEB" stroke-width="0.9"/>
<line x1="548.3" x2="757.5" y1="215.3" y2="215.3" stroke="#EBEBEB" stroke-width="0.9"/>
<g clip-path="url(#c12)">
<polygon points="602.65,290.3 604.66,289.61 606.67,288.93 608.68,288.26 610.69,287.58 612.7,286.91 614.71,286.23 616.72,285.53 618.73,284.81 620.74,284.07 622.75,283.3 624.76,282.5 626.77,281.69 628.78,280.85 630.79,279.99 632.8,279.1 634.81,278.19 636.82,277.26 638.83,276.3 640.84,275.31 642.85,274.3 644.86,273.27 646.87,272.22 648.88,271.14 650.89,270.03 652.9,268.89 654.91,267.7 656.92,266.45 658.93,265.14 660.94,263.76 662.95,262.3 664.96,260.74 666.97,259.07 668.98,257.3 670.99,255.42 673,253.44 675.01,251.38 677.02,249.23 679.03,246.99 681.04,244.68 683.05,242.3 685.06,239.83 687.07,237.26 689.08,234.57 691.09,231.76 693.1,228.82 695.11,225.73 697.12,222.5 699.13,219.1 701.14,215.54 703.15,211.8 705.16,207.77 707.17,203.38 709.18,198.66 711.19,193.67 713.2,188.44 715.21,183.03 717.22,177.46 719.23,171.79 721.24,166.05 723.25,160.3 725.26,154.41 727.27,148.26 729.28,141.91 731.29,135.38 733.3,128.74 735.31,122.02 737.32,115.27 739.33,108.54 741.34,101.87 743.35,95.3 743.35,242.3 741.34,243.63 739.33,244.93 737.32,246.22 735.31,247.5 733.3,248.79 731.29,250.1 729.28,251.44 727.27,252.83 725.26,254.28 723.25,255.8 721.24,257.45 719.23,259.26 717.22,261.17 715.21,263.16 713.2,265.18 711.19,267.19 709.18,269.15 707.17,271.01 705.16,272.74 703.15,274.3 701.14,275.72 699.13,277.06 697.12,278.34 695.11,279.57 693.1,280.76 691.09,281.9 689.08,283.02 687.07,284.12 685.06,285.21 683.05,286.3 681.04,287.39 679.03,288.48 677.02,289.57 675.01,290.63 673,291.68 670.99,292.69 668.98,293.67 666.97,294.6 664.96,295.48 662.95,296.3 660.94,297.07 658.93,297.81 656.92,298.53 654.91,299.21 652.9,299.87 650.89,300.5 648.88,301.11 646.87,301.7 644.86,302.26 642.85,302.8 640.84,303.32 638.83,303.83 636.82,304.33 634.81,304.8 632.8,305.26 630.79,305.71 628.78,306.13 626.77,306.54 624.76,306.93 622.75,307.3 620.74,307.65 618.73,307.98 616.72,308.29 614.71,308.59 612.7,308.88 610.69,309.16 608.68,309.44 606.67,309.72 604.66,310.01 602.65,310.3" fill="#0000FF" fill-opacity="0.17"/>
<polygon points="602.65,303.3 604.66,302.71 606.67,302.14 608.68,301.58 610.69,301.02 612.7,300.45 614.71,299.87 616.72,299.28 618.73,298.65 620.74,298 622.75,297.3 624.76,296.56 626.77,295.77 628.78,294.95 630.79,294.08 632.8,293.19 634.81,292.26 636.82,291.3 638.83,290.32 640.84,289.32 642.85,288.3 644.86,287.25 646.87,286.16 648.88,285.02 650.89,283.86 652.9,282.66 654.91,281.43 656.92,280.17 658.93,278.9 660.94,277.61 662.95,276.3 664.96,274.98 666.97,273.64 668.98,272.27 670.99,270.88 673,269.46 675.01,268.01 677.02,266.52 679.03,264.99 681.04,263.42 683.05,261.8 685.06,260.13 687.07,258.42 689.08,256.66 691.09,254.85 693.1,252.99 695.11,251.07 697.12,249.1 699.13,247.06 701.14,244.96 703.15,242.8 705.16,240.57 707.17,238.26 709.18,235.87 711.19,233.4 713.2,230.85 715.21,228.22 717.22,225.5 719.23,222.69 721.24,219.79 723.25,216.8 725.26,213.65 727.27,210.28 729.28,206.75 731.29,203.08 733.3,199.32 735.31,195.49 737.32,191.64 739.33,187.8 741.34,184.01 743.35,180.3 743.35,226.8 741.34,228.53 739.33,230.24 737.32,231.94 735.31,233.63 733.3,235.33 731.29,237.04 729.28,238.79 727.27,240.57 725.26,242.4 723.25,244.3 721.24,246.31 719.23,248.46 717.22,250.71 715.21,253.02 713.2,255.34 711.19,257.64 709.18,259.88 707.17,262.01 705.16,264 703.15,265.8 701.14,267.45 699.13,269.02 697.12,270.52 695.11,271.96 693.1,273.34 691.09,274.68 689.08,275.99 687.07,277.27 685.06,278.54 683.05,279.8 681.04,281.06 679.03,282.3 677.02,283.52 675.01,284.73 673,285.91 670.99,287.06 668.98,288.17 666.97,289.26 664.96,290.3 662.95,291.3 660.94,292.27 658.93,293.21 656.92,294.13 654.91,295.02 652.9,295.89 650.89,296.73 648.88,297.55 646.87,298.33 644.86,299.08 642.85,299.8 640.84,300.5 638.83,301.18 636.82,301.85 634.81,302.5 632.8,303.13 630.79,303.73 628.78,304.3 626.77,304.84 624.76,305.34 622.75,305.8 620.74,306.22 618.73,306.62 616.72,306.99 614.71,307.33 612.7,307.67 610.69,307.99 608.68,308.31 606.67,308.63 604.66,308.96 602.65,309.3" fill="#0000FF" fill-opacity="0.21"/>
<polyline points="602.65,306.6 622.75,300.3 642.85,292.3 662.95,281.8 683.05,271.3 703.15,259.8 723.25,234.8 743.35,204.5" fill="none" stroke="#6E6E6E" stroke-width="1.4" stroke-dasharray="3.2 3.2 9.6 3.2" stroke-linejoin="round"/>
<polyline points="602.65,311.4 622.75,307.8 642.85,303.3 662.95,296 683.05,286.8 703.15,274.3 723.25,258.8 743.35,236.8" fill="none" stroke="#0000C8" stroke-width="1.6" stroke-dasharray="1.6 4.8" stroke-linejoin="round"/>
<polyline points="602.65,307.3 622.75,302.8 642.85,295.3 662.95,285.3 683.05,273.3 703.15,255.8 723.25,234.8 743.35,207.3" fill="none" stroke="#0000C8" stroke-width="1.4" stroke-linejoin="round"/>
<circle cx="602.65" cy="311.4" r="2.3" fill="#0000C8"/>
<circle cx="622.75" cy="307.8" r="2.3" fill="#0000C8"/>
<circle cx="642.85" cy="303.3" r="2.3" fill="#0000C8"/>
<circle cx="662.95" cy="296" r="2.3" fill="#0000C8"/>
<circle cx="683.05" cy="286.8" r="2.3" fill="#0000C8"/>
<circle cx="703.15" cy="274.3" r="2.3" fill="#0000C8"/>
<circle cx="723.25" cy="258.8" r="2.3" fill="#0000C8"/>
<circle cx="743.35" cy="236.8" r="2.3" fill="#0000C8"/>
<circle cx="602.65" cy="307.3" r="2.3" fill="#0000C8"/>
<circle cx="622.75" cy="302.8" r="2.3" fill="#0000C8"/>
<circle cx="642.85" cy="295.3" r="2.3" fill="#0000C8"/>
<circle cx="662.95" cy="285.3" r="2.3" fill="#0000C8"/>
<circle cx="683.05" cy="273.3" r="2.3" fill="#0000C8"/>
<circle cx="703.15" cy="255.8" r="2.3" fill="#0000C8"/>
<circle cx="723.25" cy="234.8" r="2.3" fill="#0000C8"/>
<circle cx="743.35" cy="207.3" r="2.3" fill="#0000C8"/>
<circle cx="602.65" cy="306.6" r="2.3" fill="#6E6E6E"/>
<circle cx="622.75" cy="300.3" r="2.3" fill="#6E6E6E"/>
<circle cx="642.85" cy="292.3" r="2.3" fill="#6E6E6E"/>
<circle cx="662.95" cy="281.8" r="2.3" fill="#6E6E6E"/>
<circle cx="683.05" cy="271.3" r="2.3" fill="#6E6E6E"/>
<circle cx="703.15" cy="259.8" r="2.3" fill="#6E6E6E"/>
<circle cx="723.25" cy="234.8" r="2.3" fill="#6E6E6E"/>
<circle cx="743.35" cy="204.5" r="2.3" fill="#6E6E6E"/>
</g>
<rect x="548.3" y="194.5" width="209.2" height="126.3" fill="none" stroke="#D0D0D0" stroke-width="1.2"/>
<line x1="546.1" x2="548.3" y1="315.3" y2="315.3" stroke="#C4C4C4" stroke-width="0.9"/>
<text transform="translate(544.7,318.6) scale(1,1.1)" font-size="9" fill="#4D4D4D" text-anchor="end">0.00</text>
<line x1="546.1" x2="548.3" y1="290.3" y2="290.3" stroke="#C4C4C4" stroke-width="0.9"/>
<text transform="translate(544.7,293.6) scale(1,1.1)" font-size="9" fill="#4D4D4D" text-anchor="end">0.05</text>
<line x1="546.1" x2="548.3" y1="265.3" y2="265.3" stroke="#C4C4C4" stroke-width="0.9"/>
<text transform="translate(544.7,268.6) scale(1,1.1)" font-size="9" fill="#4D4D4D" text-anchor="end">0.10</text>
<line x1="546.1" x2="548.3" y1="240.3" y2="240.3" stroke="#C4C4C4" stroke-width="0.9"/>
<text transform="translate(544.7,243.6) scale(1,1.1)" font-size="9" fill="#4D4D4D" text-anchor="end">0.15</text>
<line x1="546.1" x2="548.3" y1="215.3" y2="215.3" stroke="#C4C4C4" stroke-width="0.9"/>
<text transform="translate(544.7,218.6) scale(1,1.1)" font-size="9" fill="#4D4D4D" text-anchor="end">0.20</text>
<line x1="552.4" x2="552.4" y1="320.8" y2="323" stroke="#C4C4C4" stroke-width="0.9"/>
<text transform="translate(552.4,331.2) scale(1,1.1)" font-size="9" fill="#4D4D4D" text-anchor="middle">30</text>
<line x1="572.5" x2="572.5" y1="320.8" y2="323" stroke="#C4C4C4" stroke-width="0.9"/>
<text transform="translate(572.5,331.2) scale(1,1.1)" font-size="9" fill="#4D4D4D" text-anchor="middle">35</text>
<line x1="592.6" x2="592.6" y1="320.8" y2="323" stroke="#C4C4C4" stroke-width="0.9"/>
<text transform="translate(592.6,331.2) scale(1,1.1)" font-size="9" fill="#4D4D4D" text-anchor="middle">40</text>
<line x1="612.7" x2="612.7" y1="320.8" y2="323" stroke="#C4C4C4" stroke-width="0.9"/>
<text transform="translate(612.7,331.2) scale(1,1.1)" font-size="9" fill="#4D4D4D" text-anchor="middle">45</text>
<line x1="632.8" x2="632.8" y1="320.8" y2="323" stroke="#C4C4C4" stroke-width="0.9"/>
<text transform="translate(632.8,331.2) scale(1,1.1)" font-size="9" fill="#4D4D4D" text-anchor="middle">50</text>
<line x1="652.9" x2="652.9" y1="320.8" y2="323" stroke="#C4C4C4" stroke-width="0.9"/>
<text transform="translate(652.9,331.2) scale(1,1.1)" font-size="9" fill="#4D4D4D" text-anchor="middle">55</text>
<line x1="673" x2="673" y1="320.8" y2="323" stroke="#C4C4C4" stroke-width="0.9"/>
<text transform="translate(673,331.2) scale(1,1.1)" font-size="9" fill="#4D4D4D" text-anchor="middle">60</text>
<line x1="693.1" x2="693.1" y1="320.8" y2="323" stroke="#C4C4C4" stroke-width="0.9"/>
<text transform="translate(693.1,331.2) scale(1,1.1)" font-size="9" fill="#4D4D4D" text-anchor="middle">65</text>
<line x1="713.2" x2="713.2" y1="320.8" y2="323" stroke="#C4C4C4" stroke-width="0.9"/>
<text transform="translate(713.2,331.2) scale(1,1.1)" font-size="9" fill="#4D4D4D" text-anchor="middle">70</text>
<line x1="733.3" x2="733.3" y1="320.8" y2="323" stroke="#C4C4C4" stroke-width="0.9"/>
<text transform="translate(733.3,331.2) scale(1,1.1)" font-size="9" fill="#4D4D4D" text-anchor="middle">75</text>
<line x1="753.4" x2="753.4" y1="320.8" y2="323" stroke="#C4C4C4" stroke-width="0.9"/>
<text transform="translate(753.4,331.2) scale(1,1.1)" font-size="9" fill="#4D4D4D" text-anchor="middle">80</text>
<text x="652.9" y="343.3" font-size="11.2" fill="#000" text-anchor="middle">Age</text>
<text transform="translate(14,262.05) rotate(-90)" font-size="14.8" fill="#000" text-anchor="middle">Men</text>
<text transform="translate(26.4,257.65) rotate(-90)" font-size="11.1" fill="#000" text-anchor="middle">5−year risk</text>
<line x1="152.5" x2="183" y1="363.2" y2="363.2" stroke="#000" stroke-width="1.3" stroke-dasharray="3.2 3.2 9.6 3.2"/>
<circle cx="167.8" cy="363.2" r="2.1" fill="#000"/>
<text x="188.3" y="367.9" font-size="12.1" fill="#000">Observed incidence</text>
<line x1="312.5" x2="342" y1="363.2" y2="363.2" stroke="#000" stroke-width="1.6" stroke-dasharray="1.6 4.8" stroke-dashoffset="0"/>
<circle cx="327.8" cy="363.2" r="2.1" fill="#000"/>
<text x="348.5" y="367.9" font-size="12.1" fill="#000">Original equation</text>
<line x1="459.8" x2="489.8" y1="363.2" y2="363.2" stroke="#000" stroke-width="1.3"/>
<circle cx="474.8" cy="363.2" r="2.1" fill="#000"/>
<text x="495.6" y="367.9" font-size="12.1" fill="#000">Re−estimated equation</text>
</svg></body></html>
